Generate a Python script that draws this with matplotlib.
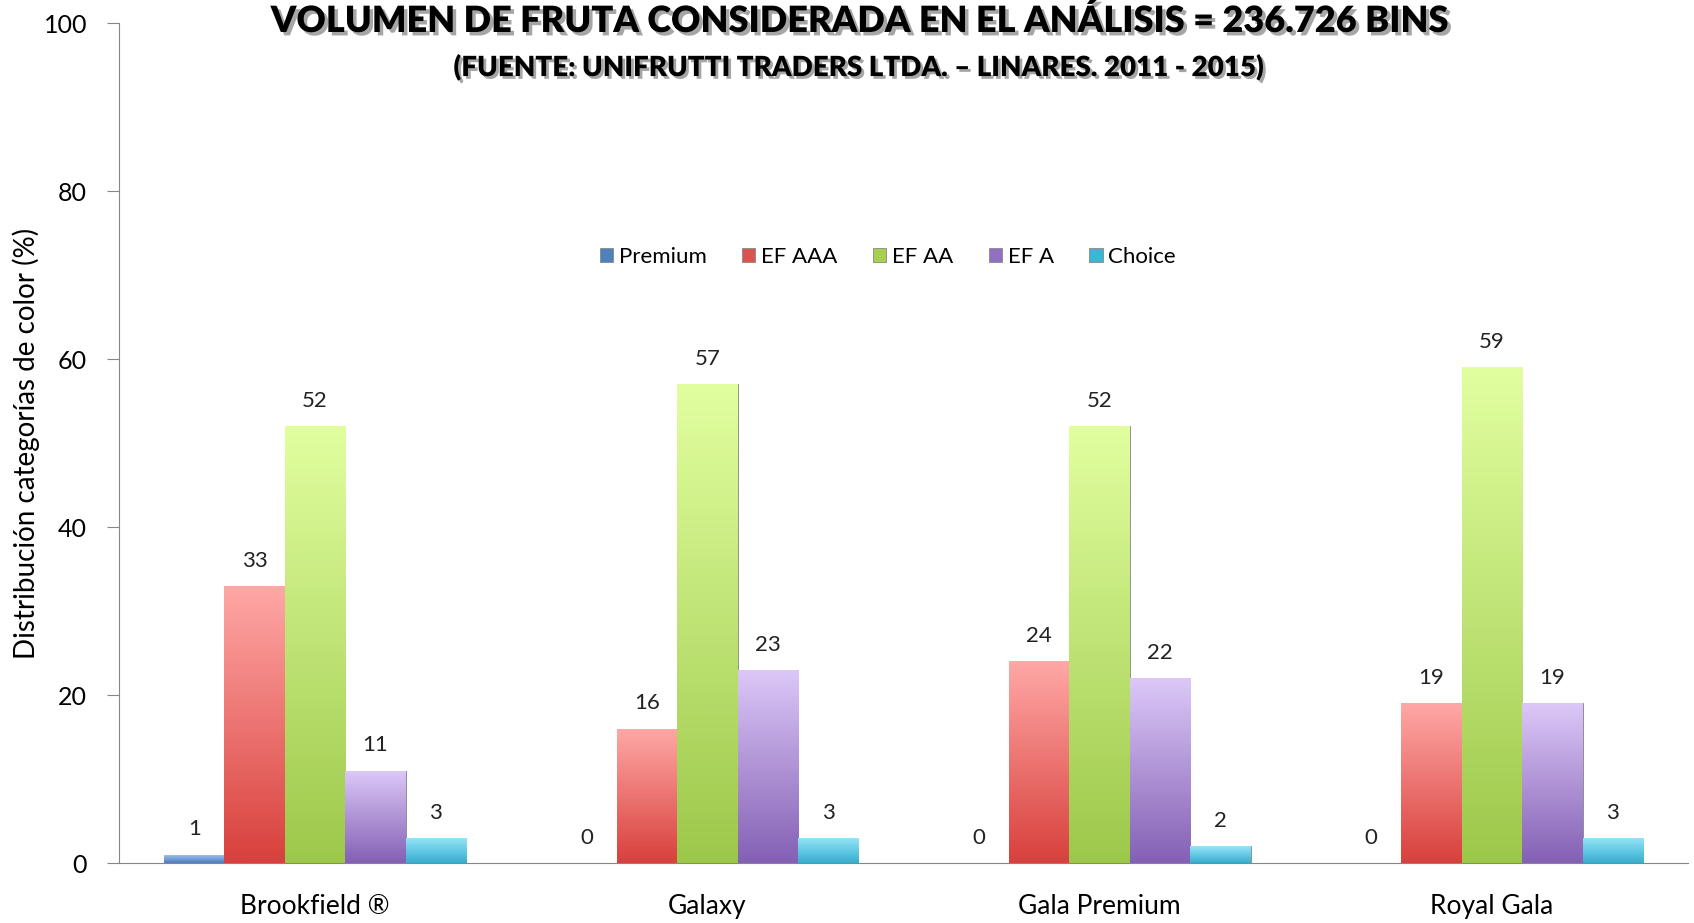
import numpy as np
import matplotlib
matplotlib.use("Agg")
import matplotlib.pyplot as plt
import matplotlib.patheffects as pe
from matplotlib.colors import LinearSegmentedColormap

plt.rcParams['font.family'] = ['Lato', 'DejaVu Sans']

categories = ["Brookfield ®", "Galaxy", "Gala Premium", "Royal Gala"]
series = ["Premium", "EF AAA", "EF AA", "EF A", "Choice"]
premium = [1, 0, 0, 0]
ef_aaa = [33, 16, 24, 19]
ef_aa = [52, 57, 52, 59]
ef_a = [11, 23, 22, 19]
choice = [3, 3, 2, 3]
values = [premium, ef_aaa, ef_aa, ef_a, choice]
yticks = [0, 20, 40, 60, 80, 100]

base_colors = ["#4F81BD", "#D9534F", "#A8D050", "#9070C0", "#3FB5D4"]
top_colors = ["#A8C8F0", "#FFA8A6", "#E2FFA0", "#DCC8F8", "#96E6F8"]
bot_colors = ["#4A7CC0", "#D8403C", "#9CC84A", "#8460B4", "#36AED0"]

fig = plt.figure(figsize=(16.94, 9.23), dpi=100)
ax = fig.add_axes([0.0702, 0.065, 0.9263, 0.910])

x = np.arange(len(categories))
w = 0.154
n = len(series)
for i, (name, vals) in enumerate(zip(series, values)):
    pos = x + (i - (n - 1) / 2) * w
    bars = ax.bar(pos, vals, w, color=base_colors[i], label=name,
                  edgecolor="#888888", linewidth=0.6, zorder=2)
    cmap = LinearSegmentedColormap.from_list("g%d" % i, [bot_colors[i], top_colors[i]])
    grad = np.linspace(0, 1, 256).reshape(-1, 1)
    for b, v in zip(bars, vals):
        bx, by = b.get_x(), b.get_y()
        bw, bh = b.get_width(), b.get_height()
        if bh > 0:
            im = ax.imshow(grad, cmap=cmap, origin="lower", aspect="auto",
                           extent=[bx, bx + bw, by, by + bh], zorder=2.5)
            im.set_clip_path(b)
        ax.annotate(f"{v}", (bx + bw / 2, bh), xytext=(0, 11),
                    textcoords="offset points", ha="center", va="bottom",
                    fontsize=16, color="#222222")

ax.set_xlim(-0.5, 3.5)
ax.set_ylim(0, 100)
ax.set_yticks(yticks)
ax.set_yticklabels([str(t) for t in yticks], fontsize=18)
ax.set_xticks(x)
ax.set_xticklabels(categories, fontsize=19)
ax.tick_params(axis="x", length=0, pad=22)
ax.tick_params(axis="y", direction="out", length=9, color="#868686", pad=14)
for s in ["top", "right"]:
    ax.spines[s].set_visible(False)
for s in ["left", "bottom"]:
    ax.spines[s].set_color("#868686")
ax.set_ylabel("Distribución categorías de color (%)", fontsize=20)
ax.yaxis.set_label_coords(-0.05, 0.5)

leg = ax.legend(loc="center", bbox_to_anchor=(0.49, 0.722), ncol=5, frameon=False,
                fontsize=16, handlelength=0.6, handleheight=0.6, handletextpad=0.25,
                columnspacing=1.6)

fig.text(0.507, 0.977, "VOLUMEN DE FRUTA CONSIDERADA EN EL ANÁLISIS = 236.726 BINS",
         ha="center", va="center", fontsize=26, fontweight="heavy", path_effects=[
             pe.withSimplePatchShadow(offset=(2.5, -2.5), shadow_rgbFace="#000000", alpha=0.35)])
fig.text(0.507, 0.927, "(FUENTE: UNIFRUTTI TRADERS LTDA. – LINARES. 2011 - 2015)",
         ha="center", va="center", fontsize=20, fontweight="heavy", path_effects=[
             pe.withSimplePatchShadow(offset=(2, -2), shadow_rgbFace="#000000", alpha=0.35)])

fig.savefig("out.png", dpi=100)
